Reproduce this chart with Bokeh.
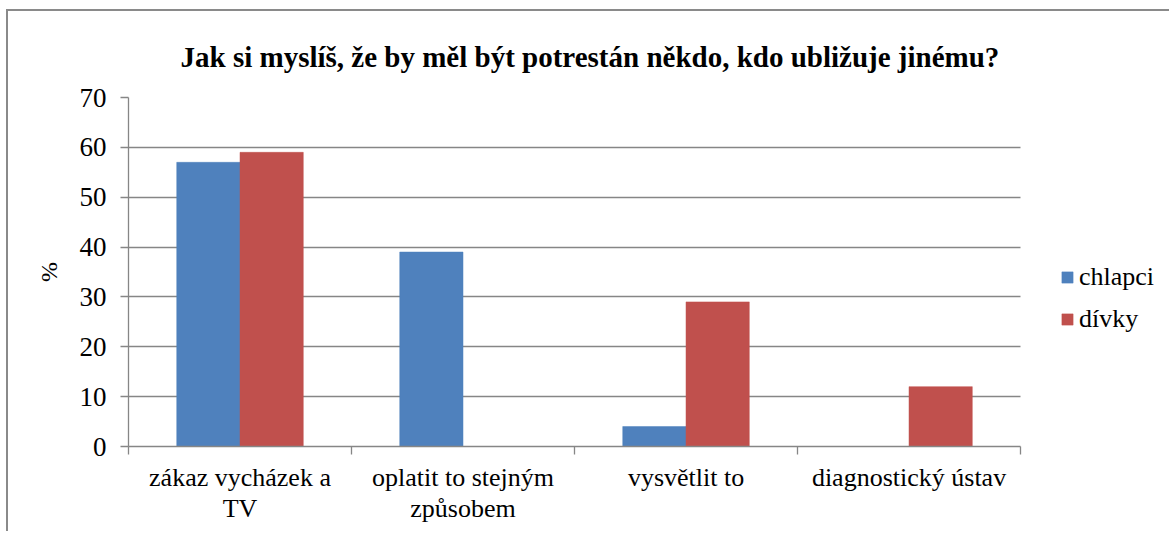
from bokeh.plotting import figure
from bokeh.models import (ColumnDataSource, Range1d, FixedTicker, Legend, LegendItem)
from bokeh.transform import dodge
from bokeh.embed import file_html
from bokeh.resources import INLINE

# ---- data ----
categories = ["zákaz vycházek a\nTV", "oplatit to stejným\nzpůsobem", "vysvětlit to", "diagnostický ústav"]
chlapci = [57, 39, 4, 0]
divky = [59, 0, 29, 12]
series_names = ["chlapci", "dívky"]
y_ticks = [0, 10, 20, 30, 40, 50, 60, 70]
title_text = "Jak si myslíš, že by měl být potrestán někdo, kdo ubližuje jinému?"
y_label = "%"

BLUE = "#4F81BD"
RED = "#C0504D"
GRID = "#868686"
FONT = "Liberation Serif"

n = len(categories)
y_max = y_ticks[-1]
centers = [i + 0.5 for i in range(n)]
src = ColumnDataSource(dict(x=centers, chlapci=chlapci, divky=divky))

# frame extends to the right edge so the legend (inside the frame) is not clipped;
# x axis and grid are bounded to the real category area.
p = figure(width=1163, height=522, output_backend="svg", toolbar_location=None,
           x_range=Range1d(0, 4.677), y_range=Range1d(0, y_max),
           min_border_left=120, min_border_right=0, min_border_top=86, min_border_bottom=87,
           styles={"border-left": "2px solid #8a8a8a", "border-top": "2px solid #8a8a8a",
                   "margin-left": "6px", "margin-top": "9px"})
p.outline_line_color = None
p.background_fill_color = "white"
p.border_fill_color = "white"

bw = 0.2837
r1 = p.vbar(x=dodge("x", -bw / 2, range=p.x_range), top="chlapci", width=bw, source=src,
            fill_color=BLUE, line_color=BLUE, line_width=0.5)
r2 = p.vbar(x=dodge("x", bw / 2, range=p.x_range), top="divky", width=bw, source=src,
            fill_color=RED, line_color=RED, line_width=0.5)

# title
p.title.text = title_text
p.title.align = "left"
p.title.offset = 52
p.title.standoff = 50
p.title.text_font = FONT
p.title.text_font_style = "bold"
p.title.text_font_size = "29px"
p.title.text_color = "black"

# grid
p.xgrid.grid_line_color = None
p.ygrid.grid_line_color = GRID
p.ygrid.grid_line_width = 1.3
p.ygrid.bounds = (-1, y_max + 1)
p.ygrid.cross_bounds = (0, n)

# y axis
p.yaxis.ticker = FixedTicker(ticks=y_ticks)
p.yaxis.axis_line_color = GRID
p.yaxis.axis_line_width = 1.3
p.yaxis.major_tick_line_color = GRID
p.yaxis.major_tick_line_width = 1.3
p.yaxis.major_tick_out = 8
p.yaxis.major_tick_in = 0
p.yaxis.minor_tick_line_color = None
p.yaxis.major_label_standoff = 14
p.yaxis.major_label_text_font = FONT
p.yaxis.major_label_text_font_size = "27px"
p.yaxis.major_label_text_color = "black"
p.yaxis.axis_label = y_label
p.yaxis.axis_label_text_font = FONT
p.yaxis.axis_label_text_font_style = "normal"
p.yaxis.axis_label_text_font_size = "24px"
p.yaxis.axis_label_text_color = "black"
p.yaxis.axis_label_standoff = 15

# x axis
p.xaxis.ticker = FixedTicker(ticks=centers, minor_ticks=list(range(n + 1)))
p.xaxis.bounds = (0, n)
p.xaxis.major_label_overrides = {c: lab for c, lab in zip(centers, categories)}
p.xaxis.axis_line_color = GRID
p.xaxis.axis_line_width = 1.3
p.xaxis.major_tick_line_color = None
p.xaxis.major_tick_out = 0
p.xaxis.major_tick_in = 0
p.xaxis.minor_tick_line_color = GRID
p.xaxis.minor_tick_line_width = 1.3
p.xaxis.minor_tick_out = 8
p.xaxis.minor_tick_in = 0
p.xaxis.major_label_standoff = 8
p.xaxis.major_label_text_font = FONT
p.xaxis.major_label_text_font_size = "26px"
p.xaxis.major_label_text_color = "black"
p.xaxis.major_label_text_line_height = 1.08

legend = Legend(items=[LegendItem(label=series_names[0], renderers=[r1]),
                       LegendItem(label=series_names[1], renderers=[r2])],
                location=(932, 112), orientation="vertical",
                glyph_width=14, glyph_height=14, label_standoff=5, spacing=12,
                padding=0, margin=0, border_line_color=None, background_fill_alpha=0,
                label_text_font=FONT, label_text_font_size="26px", label_text_color="black")
p.add_layout(legend, "center")

open("out.html", "w").write(file_html(p, INLINE))
